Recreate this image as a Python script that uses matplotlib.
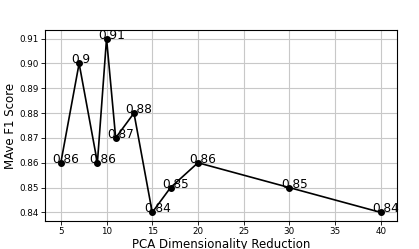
import matplotlib
matplotlib.use("Agg")
import matplotlib.pyplot as plt

# PCA dimensions and the resulting macro-averaged F1 scores
dims = [5, 7, 9, 10, 11, 13, 15, 17, 20, 30, 40]
scores = [0.86, 0.90, 0.86, 0.91, 0.87, 0.88, 0.84, 0.85, 0.86, 0.85, 0.84]
labels = ['0.86', '0.9', '0.86', '0.91', '0.87', '0.88', '0.84', '0.85', '0.86', '0.85', '0.84']

fig, ax = plt.subplots(figsize=(4.19, 2.49), dpi=100)
fig.subplots_adjust(left=0.107, right=0.947, top=0.88, bottom=0.112)

ax.plot(dims, scores, color='black', marker='o', markersize=4, linewidth=1.2, zorder=3)
for x, y, t in zip(dims, scores, labels):
    ax.text(x - 0.9, y, t, fontsize=8.7, zorder=4)

ax.grid(True, color='#c8c8c8', linewidth=0.8)
ax.set_axisbelow(True)
ax.set_xticks([5, 10, 15, 20, 25, 30, 35, 40])
ax.set_yticks([0.84, 0.85, 0.86, 0.87, 0.88, 0.89, 0.90, 0.91])
ax.tick_params(labelsize=6.3, length=3, width=0.6, pad=1.5)
for s in ax.spines.values():
    s.set_linewidth(0.8)

ax.set_xlabel('PCA Dimensionality Reduction', fontsize=8.5, labelpad=1.5)
ax.set_ylabel('MAve F1 Score', fontsize=8.5, labelpad=1.5)

fig.savefig('out.png', dpi=100)
